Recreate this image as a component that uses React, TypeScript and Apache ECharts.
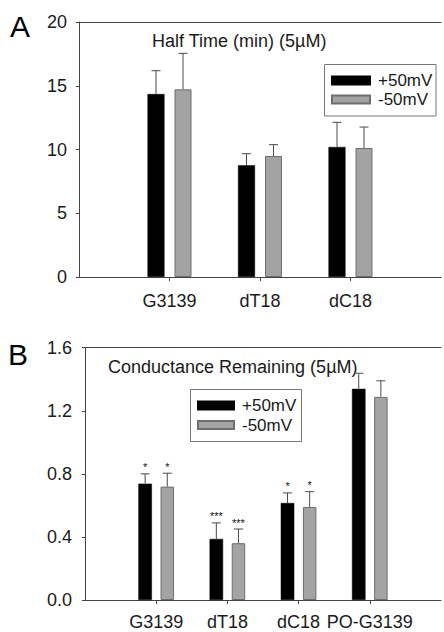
import React, { useEffect, useRef } from 'react';
import * as echarts from 'echarts';

// ---------- data ----------
const seriesNames = ['+50mV', '-50mV'];

const categoriesA = ['G3139', 'dT18', 'dC18'];
const halfTimePos = [14.35, 8.76, 10.2];
const halfTimePosErr = [1.83, 0.91, 1.93];
const halfTimeNeg = [14.72, 9.49, 10.12];
const halfTimeNegErr = [2.82, 0.89, 1.64];

const categoriesB = ['G3139', 'dT18', 'dC18', 'PO-G3139'];
const condPos = [0.738, 0.387, 0.615, 1.339];
const condPosErr = [0.062, 0.102, 0.064, 0.099];
const condNeg = [0.719, 0.36, 0.59, 1.288];
const condNegErr = [0.085, 0.09, 0.097, 0.102];
const sigPos = ['*', '***', '*', ''];
const sigNeg = ['*', '***', '*', ''];

const titleA = 'Half Time (min) (5\u00b5M)';
const titleB = 'Conductance Remaining (5\u00b5M)';

// ---------- styles ----------
const FONT = 'Liberation Sans, Arial, Helvetica, sans-serif';
const AXIS = '#444';
const BLACK = '#000000';
const GRAY = '#a3a3a3';
const GRAY_BORDER = '#6e6e6e';
const ERR = '#4a4a4a';

const pad = (c: string[]) => ['', ...c, ''];
const padData = (v: number[]) => ['-', ...v, '-'];

function errSeries(
  name: string,
  xAxisIndex: number,
  yAxisIndex: number,
  values: number[],
  errs: number[],
  offset: number,
  sig: string[] | null
) {
  return {
    type: 'custom',
    name,
    xAxisIndex,
    yAxisIndex,
    z: 5,
    data: values.map((v, i) => [i + 1, v, errs[i]]),
    encode: { x: 0, y: 1 },
    renderItem: (params: any, api: any) => {
      const c = api.value(0);
      const v = api.value(1);
      const e = api.value(2);
      const base = api.coord([c, v]);
      const top = api.coord([c, v + e]);
      const cx = base[0] + offset;
      const children: any[] = [
        {
          type: 'line',
          shape: { x1: cx, y1: base[1], x2: cx, y2: top[1] },
          style: { stroke: ERR, lineWidth: 1 },
        },
        {
          type: 'line',
          shape: { x1: cx - 4.5, y1: top[1], x2: cx + 4.5, y2: top[1] },
          style: { stroke: ERR, lineWidth: 1 },
        },
      ];
      const s = sig ? sig[params.dataIndex] : '';
      if (s) {
        children.push({
          type: 'text',
          x: cx,
          y: top[1] - 1,
          style: {
            text: s,
            fill: '#111',
            font: `11px ${FONT}`,
            align: 'center',
            verticalAlign: 'bottom',
          },
        });
      }
      return { type: 'group', children };
    },
  };
}

export default function App() {
  const ref = useRef<HTMLDivElement>(null);

  useEffect(() => {
    if (!ref.current) return;
    const chart = echarts.init(ref.current, null, { renderer: 'svg' });

    const axisLine = { show: true, onZero: false, lineStyle: { color: AXIS, width: 1 } };
    const labelStyle = { color: '#1a1a1a', fontSize: 18, fontFamily: FONT };

    const catAxis = (gridIndex: number, cats: string[], margin: number) => ({
      type: 'category',
      gridIndex,
      data: pad(cats),
      boundaryGap: false,
      axisLine,
      axisTick: {
        show: true,
        length: 4,
        lineStyle: { color: AXIS },
        interval: (i: number) => i > 0 && i < cats.length + 1,
      },
      axisLabel: { ...labelStyle, interval: 0, margin },
      splitLine: { show: false },
    });

    const topAxis = (gridIndex: number) => ({
      type: 'value',
      gridIndex,
      position: 'top',
      axisLine,
      axisTick: { show: false },
      axisLabel: { show: false },
      splitLine: { show: false },
    });

    const legendCommon = {
      data: seriesNames,
      orient: 'vertical',
      itemHeight: 8,
      icon: 'rect',
      borderWidth: 0,
      selectedMode: false,
      textStyle: { fontSize: 17, color: '#1a1a1a', fontFamily: FONT, padding: [0, 0, 0, 3] },
    };

    const option: any = {
      animation: false,
      backgroundColor: '#ffffff',
      textStyle: { fontFamily: FONT },
      grid: [
        { left: 79, top: 22, width: 365, height: 255 },
        { left: 85, top: 347.7, width: 362.5, height: 252.3 },
      ],
      xAxis: [
        catAxis(0, categoriesA, 15),
        topAxis(0),
        catAxis(1, categoriesB, 13),
        topAxis(1),
      ],
      yAxis: [
        {
          type: 'value',
          gridIndex: 0,
          min: 0,
          max: 20,
          interval: 5,
          axisLine,
          axisTick: { show: true, length: 3, lineStyle: { color: AXIS } },
          axisLabel: { ...labelStyle, margin: 12 },
          splitLine: { show: false },
        },
        {
          type: 'value',
          gridIndex: 1,
          min: 0,
          max: 1.6,
          interval: 0.4,
          axisLine,
          axisTick: { show: true, length: 3, lineStyle: { color: AXIS } },
          axisLabel: {
            ...labelStyle,
            margin: 13,
            formatter: (v: number) => v.toFixed(1),
          },
          splitLine: { show: false },
        },
      ],
      legend: [
        {
          ...legendCommon,
          left: 324,
          top: 64,
          padding: [8, 6, 8, 7],
          itemGap: 2,
          itemWidth: 38,
        },
        {
          ...legendCommon,
          left: 190,
          top: 389,
          padding: [8, 6, 8, 7],
          itemGap: 2.5,
          itemWidth: 36,
        },
      ],
      graphic: [
        { type: 'text', left: 10, top: 11, style: { text: 'A', font: `30px ${FONT}`, fill: '#000' } },
        { type: 'text', left: 8, top: 339, style: { text: 'B', font: `30px ${FONT}`, fill: '#000' } },
        { type: 'text', left: 152, top: 32, style: { text: titleA, font: `18px ${FONT}`, fill: '#1a1a1a' } },
        { type: 'text', left: 108, top: 357.7, style: { text: titleB, font: `18px ${FONT}`, fill: '#1a1a1a' } },
        {
          type: 'rect',
          shape: { x: 324.5, y: 64.5, width: 111.5, height: 51.5 },
          style: { fill: 'none', stroke: '#777', lineWidth: 1 },
          z: 10,
        },
        {
          type: 'rect',
          shape: { x: 190.5, y: 389.5, width: 111, height: 52 },
          style: { fill: 'none', stroke: '#777', lineWidth: 1 },
          z: 10,
        },
      ],
      series: [
        {
          type: 'bar',
          name: seriesNames[0],
          xAxisIndex: 0,
          yAxisIndex: 0,
          data: padData(halfTimePos),
          barWidth: 17,
          barGap: '59%',
          itemStyle: { color: BLACK, borderColor: BLACK, borderWidth: 0.5 },
        },
        {
          type: 'bar',
          name: seriesNames[1],
          xAxisIndex: 0,
          yAxisIndex: 0,
          data: padData(halfTimeNeg),
          barWidth: 17,
          barGap: '59%',
          itemStyle: { color: GRAY, borderColor: GRAY_BORDER, borderWidth: 1 },
        },
        errSeries('errA1', 0, 0, halfTimePos, halfTimePosErr, -13.5, null),
        errSeries('errA2', 0, 0, halfTimeNeg, halfTimeNegErr, 13.5, null),
        {
          type: 'bar',
          name: seriesNames[0],
          xAxisIndex: 2,
          yAxisIndex: 1,
          data: padData(condPos),
          barWidth: 13.5,
          barGap: '64%',
          itemStyle: { color: BLACK, borderColor: BLACK, borderWidth: 0.5 },
        },
        {
          type: 'bar',
          name: seriesNames[1],
          xAxisIndex: 2,
          yAxisIndex: 1,
          data: padData(condNeg),
          barWidth: 13.5,
          barGap: '64%',
          itemStyle: { color: GRAY, borderColor: GRAY_BORDER, borderWidth: 1 },
        },
        errSeries('errB1', 2, 1, condPos, condPosErr, -11.07, sigPos),
        errSeries('errB2', 2, 1, condNeg, condNegErr, 11.07, sigNeg),
      ],
    };

    chart.setOption(option);
    return () => chart.dispose();
  }, []);

  return (
    <div
      ref={ref}
      style={{ position: 'fixed', left: 0, top: 0, width: 444, height: 632, background: '#fff' }}
    />
  );
}
